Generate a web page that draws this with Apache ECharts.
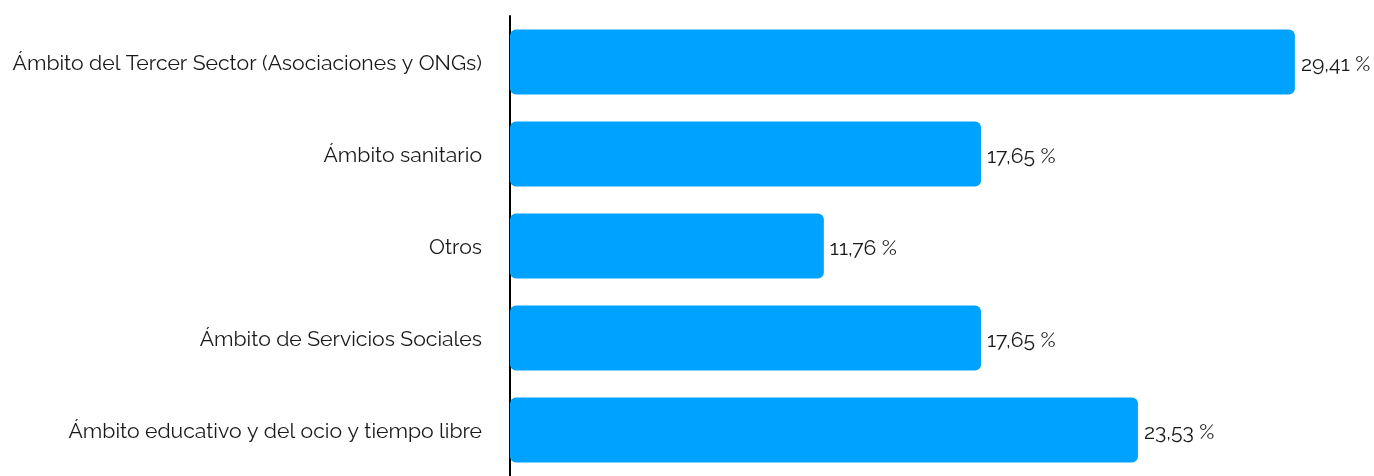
<!DOCTYPE html>
<html>
<head>
<meta charset="utf-8">
<script src="https://cdn.jsdelivr.net/npm/echarts@6/dist/echarts.min.js"></script>
<style>
  html, body { margin: 0; padding: 0; background: #fff; }
  #chart { width: 1374px; height: 476px; }
</style>
</head>
<body>
<div id="chart"></div>
<script>
// Ámbitos de actividad (porcentaje)
const categories = [
  'Ámbito del Tercer Sector (Asociaciones y ONGs)',
  'Ámbito sanitario',
  'Otros',
  'Ámbito de Servicios Sociales',
  'Ámbito educativo y del ocio y tiempo libre'
];
const values = [29.41, 17.65, 11.76, 17.65, 23.53];

const fontFamily = 'Raleway, Lato, "Open Sans", sans-serif';

const chart = echarts.init(document.getElementById('chart'));
chart.setOption({
  animation: false,
  grid: { left: 510, right: 10, top: 16, bottom: -3 },
  xAxis: {
    type: 'value',
    min: 0,
    max: 32,
    show: false
  },
  yAxis: {
    type: 'category',
    data: categories,
    inverse: true,
    axisLine: { show: true, lineStyle: { color: '#000', width: 2 } },
    axisTick: { show: false },
    axisLabel: {
      color: '#1a1a1a', fontSize: 21.2, fontFamily: fontFamily, margin: 28,
      formatter: v => '{c|' + v + '}',
      rich: {
        c: { color: '#1a1a1a', fontSize: 21.2, fontFamily: fontFamily, padding: [4, 0, 0, 0] }
      }
    }
  },
  series: [{
    type: 'bar',
    data: values,
    barWidth: 65,
    itemStyle: { color: '#00a2ff', borderRadius: 6 },
    label: {
      show: true,
      position: 'right',
      distance: 6,
      offset: [0, 3],
      color: '#1a1a1a',
      fontSize: 21.2,
      fontFamily: fontFamily,
      formatter: p => p.value.toFixed(2).replace('.', ',') + ' %'
    }
  }]
});
</script>
</body>
</html>
